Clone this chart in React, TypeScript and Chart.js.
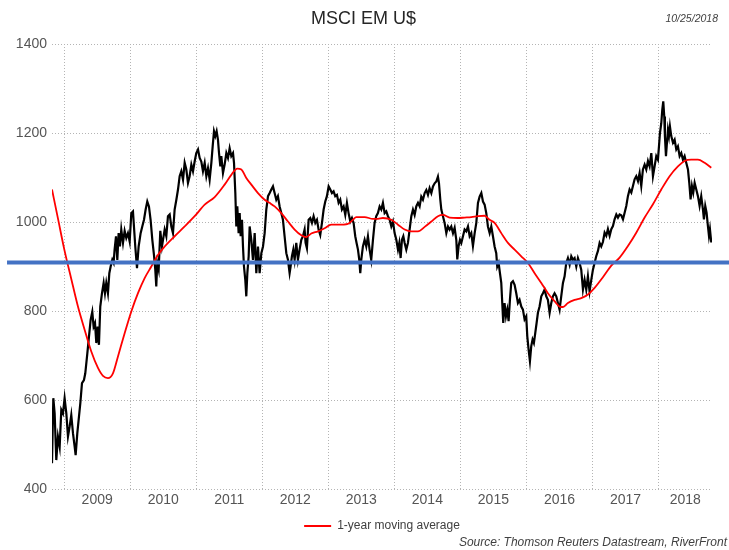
import React, { useEffect, useRef } from 'react';
import { Chart, registerables } from 'chart.js';

Chart.register(...registerables);

const FONT = '"Liberation Sans", Arial, Helvetica, sans-serif';

// Axis range (decimal years): 10/25/2008 .. 10/25/2018
const xStart = 2008.816;
const xEnd = 2018.81;
const yMin = 400;
const yMax = 1400;
const yStep = 200;
const gridYears = [2009, 2010, 2011, 2012, 2013, 2014, 2015, 2016, 2017, 2018];
const yearLabels = ['2009', '2010', '2011', '2012', '2013', '2014', '2015', '2016', '2017', '2018'];

const chartTitle = 'MSCI EM U$';
const asOfDate = '10/25/2018';
const sourceText = 'Source: Thomson Reuters Datastream, RiverFront';
const maLabel = '1-year moving average';

// Horizontal reference level (blue line) and its extent (decimal years)
const thresholdLevel = 909;
const thresholdFrom = 2008.135;
const thresholdTo = 2019.07;

// MSCI EM U$ index level, [decimal year, value]
const msciEm: [number, number][] = [
  [2008.816, 458], [2008.836, 604], [2008.856, 570], [2008.881, 465], [2008.906, 518], [2008.932, 495],
  [2008.957, 578], [2008.982, 570], [2009.007, 604], [2009.033, 570], [2009.058, 518], [2009.083, 540],
  [2009.108, 566], [2009.134, 525], [2009.159, 495], [2009.174, 476], [2009.199, 525], [2009.219, 555],
  [2009.245, 593], [2009.270, 638], [2009.300, 645], [2009.320, 660], [2009.351, 705], [2009.371, 735],
  [2009.401, 780], [2009.426, 798], [2009.446, 765], [2009.467, 773], [2009.487, 728], [2009.507, 765],
  [2009.527, 724], [2009.547, 810], [2009.573, 840], [2009.598, 863], [2009.618, 840], [2009.638, 863],
  [2009.663, 840], [2009.684, 885], [2009.704, 900], [2009.729, 915], [2009.749, 908], [2009.764, 938],
  [2009.785, 968], [2009.805, 915], [2009.825, 975], [2009.845, 945], [2009.865, 983], [2009.891, 953],
  [2009.916, 980], [2009.941, 964], [2009.966, 975], [2009.992, 956], [2010.017, 1020], [2010.042, 1024],
  [2010.057, 990], [2010.077, 945], [2010.103, 896], [2010.128, 945], [2010.158, 975], [2010.183, 990],
  [2010.209, 1005], [2010.234, 1028], [2010.259, 1046], [2010.284, 1035], [2010.309, 1005], [2010.335, 960],
  [2010.360, 926], [2010.380, 893], [2010.395, 855], [2010.410, 908], [2010.431, 893], [2010.456, 980],
  [2010.481, 945], [2010.497, 960], [2010.522, 983], [2010.547, 968], [2010.572, 1013], [2010.598, 1017],
  [2010.623, 990], [2010.648, 975], [2010.673, 1028], [2010.699, 1050], [2010.724, 1073], [2010.749, 1103],
  [2010.774, 1114], [2010.800, 1095], [2010.825, 1133], [2010.850, 1118], [2010.875, 1088], [2010.900, 1103],
  [2010.926, 1129], [2010.951, 1114], [2010.976, 1136], [2011.001, 1155], [2011.027, 1163], [2011.052, 1144],
  [2011.077, 1136], [2011.102, 1114], [2011.128, 1133], [2011.153, 1103], [2011.178, 1121], [2011.203, 1095],
  [2011.229, 1133], [2011.249, 1170], [2011.269, 1204], [2011.289, 1193], [2011.309, 1204], [2011.329, 1185],
  [2011.345, 1155], [2011.365, 1125], [2011.380, 1148], [2011.405, 1110], [2011.430, 1129], [2011.456, 1155],
  [2011.481, 1144], [2011.506, 1166], [2011.531, 1148], [2011.557, 1155], [2011.572, 1133], [2011.592, 1065],
  [2011.607, 990], [2011.622, 1035], [2011.642, 975], [2011.658, 1020], [2011.673, 968], [2011.693, 1005],
  [2011.708, 945], [2011.723, 900], [2011.743, 870], [2011.758, 833], [2011.774, 885], [2011.794, 923],
  [2011.809, 990], [2011.834, 960], [2011.859, 915], [2011.885, 975], [2011.910, 885], [2011.935, 945],
  [2011.960, 885], [2011.986, 930], [2012.011, 945], [2012.036, 975], [2012.061, 1028], [2012.087, 1058],
  [2012.112, 1065], [2012.137, 1073], [2012.162, 1080], [2012.187, 1065], [2012.212, 1050], [2012.237, 1058],
  [2012.263, 1035], [2012.288, 1020], [2012.313, 1005], [2012.338, 968], [2012.364, 930], [2012.389, 915],
  [2012.414, 885], [2012.429, 900], [2012.449, 923], [2012.470, 938], [2012.490, 915], [2012.515, 953],
  [2012.540, 915], [2012.565, 938], [2012.591, 960], [2012.616, 968], [2012.641, 983], [2012.656, 953],
  [2012.676, 941], [2012.702, 1005], [2012.727, 1009], [2012.752, 998], [2012.777, 1013], [2012.803, 998],
  [2012.828, 1005], [2012.853, 983], [2012.878, 971], [2012.904, 998], [2012.929, 1028], [2012.954, 1046],
  [2012.979, 1058], [2013.005, 1080], [2013.030, 1073], [2013.055, 1065], [2013.080, 1069], [2013.105, 1058],
  [2013.131, 1061], [2013.156, 1043], [2013.181, 1050], [2013.206, 1028], [2013.232, 1035], [2013.257, 1016],
  [2013.282, 1043], [2013.307, 1020], [2013.333, 1001], [2013.358, 1009], [2013.383, 998], [2013.408, 968],
  [2013.428, 953], [2013.449, 938], [2013.469, 915], [2013.484, 885], [2013.499, 915], [2013.524, 945],
  [2013.550, 960], [2013.575, 945], [2013.600, 968], [2013.625, 938], [2013.650, 915], [2013.676, 960],
  [2013.701, 998], [2013.726, 1013], [2013.751, 1020], [2013.777, 1035], [2013.802, 1028], [2013.827, 1043],
  [2013.853, 1020], [2013.878, 1024], [2013.903, 1013], [2013.929, 1005], [2013.954, 990], [2013.979, 1001],
  [2014.004, 975], [2014.030, 960], [2014.055, 938], [2014.075, 953], [2014.095, 919], [2014.115, 960],
  [2014.136, 968], [2014.156, 953], [2014.181, 938], [2014.206, 953], [2014.231, 983], [2014.257, 1013],
  [2014.282, 1028], [2014.307, 1016], [2014.332, 1035], [2014.358, 1043], [2014.383, 1035], [2014.408, 1057],
  [2014.433, 1050], [2014.459, 1065], [2014.484, 1072], [2014.509, 1061], [2014.534, 1076], [2014.560, 1065],
  [2014.585, 1080], [2014.610, 1087], [2014.635, 1091], [2014.660, 1102], [2014.676, 1087], [2014.696, 1050],
  [2014.711, 1028], [2014.736, 1013], [2014.761, 998], [2014.787, 975], [2014.812, 990], [2014.837, 983],
  [2014.862, 990], [2014.888, 975], [2014.913, 987], [2014.938, 960], [2014.953, 916], [2014.973, 946],
  [2014.994, 960], [2015.014, 953], [2015.039, 968], [2015.064, 983], [2015.089, 979], [2015.115, 990],
  [2015.140, 968], [2015.165, 975], [2015.190, 946], [2015.216, 975], [2015.241, 998], [2015.266, 1043],
  [2015.291, 1057], [2015.317, 1065], [2015.342, 1046], [2015.367, 1039], [2015.392, 1020], [2015.417, 990],
  [2015.443, 975], [2015.468, 990], [2015.493, 968], [2015.518, 945], [2015.543, 930], [2015.558, 900],
  [2015.579, 908], [2015.599, 885], [2015.619, 863], [2015.634, 818], [2015.649, 773], [2015.669, 818],
  [2015.690, 788], [2015.710, 803], [2015.730, 777], [2015.750, 825], [2015.770, 863], [2015.796, 867],
  [2015.821, 859], [2015.846, 840], [2015.871, 818], [2015.896, 825], [2015.922, 810], [2015.947, 803],
  [2015.972, 781], [2015.997, 788], [2016.013, 743], [2016.033, 713], [2016.053, 687], [2016.073, 721],
  [2016.093, 736], [2016.113, 728], [2016.134, 751], [2016.154, 773], [2016.174, 796], [2016.199, 810],
  [2016.225, 833], [2016.250, 840], [2016.275, 848], [2016.300, 833], [2016.325, 825], [2016.351, 796],
  [2016.376, 818], [2016.401, 833], [2016.426, 840], [2016.452, 833], [2016.477, 818], [2016.502, 803],
  [2016.527, 833], [2016.553, 863], [2016.578, 878], [2016.603, 908], [2016.628, 919], [2016.654, 904],
  [2016.679, 923], [2016.704, 915], [2016.729, 919], [2016.755, 900], [2016.780, 919], [2016.805, 908],
  [2016.830, 893], [2016.856, 848], [2016.881, 870], [2016.906, 848], [2016.931, 878], [2016.956, 844],
  [2016.982, 870], [2017.007, 893], [2017.032, 908], [2017.057, 923], [2017.083, 935], [2017.108, 953],
  [2017.133, 945], [2017.158, 955], [2017.184, 976], [2017.209, 969], [2017.234, 984], [2017.260, 969],
  [2017.285, 984], [2017.310, 991], [2017.335, 1006], [2017.361, 1017], [2017.386, 1010], [2017.411, 1017],
  [2017.436, 1015], [2017.462, 1006], [2017.487, 1021], [2017.512, 1036], [2017.537, 1058], [2017.562, 1073],
  [2017.588, 1066], [2017.613, 1081], [2017.638, 1096], [2017.663, 1103], [2017.689, 1092], [2017.714, 1110],
  [2017.739, 1081], [2017.764, 1118], [2017.790, 1129], [2017.815, 1118], [2017.840, 1137], [2017.865, 1125],
  [2017.891, 1155], [2017.916, 1103], [2017.941, 1125], [2017.966, 1148], [2017.991, 1140], [2018.007, 1170],
  [2018.022, 1200], [2018.042, 1222], [2018.057, 1252], [2018.072, 1271], [2018.087, 1237], [2018.097, 1193],
  [2018.113, 1148], [2018.128, 1178], [2018.143, 1207], [2018.158, 1193], [2018.173, 1215], [2018.193, 1193],
  [2018.219, 1178], [2018.244, 1185], [2018.269, 1163], [2018.294, 1170], [2018.320, 1148], [2018.345, 1155],
  [2018.370, 1140], [2018.395, 1148], [2018.420, 1133], [2018.446, 1118], [2018.466, 1088], [2018.486, 1051],
  [2018.506, 1081], [2018.526, 1066], [2018.547, 1088], [2018.572, 1073], [2018.597, 1058], [2018.622, 1036],
  [2018.647, 1058], [2018.673, 1028], [2018.688, 1006], [2018.708, 1036], [2018.728, 1021], [2018.748, 991],
  [2018.764, 969], [2018.779, 984], [2018.799, 954],
];

// 1-year moving average, [decimal year, value]
const movingAvg: [number, number][] = [
  [2008.816, 1073], [2008.906, 1008], [2009.007, 935], [2009.108, 872], [2009.209, 810], [2009.310, 758],
  [2009.411, 709], [2009.512, 672], [2009.588, 654], [2009.663, 649], [2009.739, 660], [2009.815, 698],
  [2009.916, 750], [2010.017, 799], [2010.118, 840], [2010.219, 874], [2010.320, 900], [2010.420, 926],
  [2010.522, 945], [2010.673, 968], [2010.825, 990], [2010.976, 1013], [2011.128, 1039], [2011.279, 1056],
  [2011.430, 1084], [2011.531, 1106], [2011.622, 1120], [2011.683, 1118], [2011.758, 1099], [2011.834, 1084],
  [2011.935, 1065], [2012.036, 1050], [2012.112, 1043], [2012.187, 1035], [2012.288, 1020], [2012.389, 1001],
  [2012.490, 983], [2012.591, 970], [2012.666, 966], [2012.742, 974], [2012.843, 979], [2012.944, 986],
  [2013.045, 994], [2013.146, 994], [2013.297, 996], [2013.373, 1005], [2013.423, 1011], [2013.550, 1011],
  [2013.676, 1007], [2013.751, 1007], [2013.827, 1009], [2013.954, 1005], [2014.055, 994], [2014.156, 983],
  [2014.257, 979], [2014.358, 979], [2014.459, 989], [2014.560, 1001], [2014.660, 1013], [2014.736, 1016],
  [2014.837, 1010], [2014.963, 1009], [2015.064, 1010], [2015.165, 1011], [2015.266, 1013], [2015.367, 1014],
  [2015.443, 1005], [2015.518, 998], [2015.619, 975], [2015.720, 953], [2015.821, 938], [2015.922, 923],
  [2016.023, 908], [2016.124, 885], [2016.225, 863], [2016.325, 840], [2016.426, 822], [2016.502, 810],
  [2016.553, 809], [2016.628, 818], [2016.729, 825], [2016.830, 829], [2016.931, 837], [2017.032, 852],
  [2017.158, 876], [2017.285, 902], [2017.411, 920], [2017.537, 946], [2017.663, 976], [2017.790, 1010],
  [2017.916, 1040], [2018.042, 1073], [2018.168, 1103], [2018.294, 1125], [2018.395, 1137], [2018.496, 1140],
  [2018.597, 1140], [2018.698, 1133], [2018.799, 1122],
];

const GRID_COLOR = '#b4b4b4';
const TICK_COLOR = '#555555';

export default function App() {
  const canvasRef = useRef<HTMLCanvasElement>(null);

  useEffect(() => {
    const canvas = canvasRef.current;
    if (!canvas) return;

    const labelPositions = gridYears.map((y) => {
      const lo = Math.max(y, xStart);
      const hi = Math.min(y + 1, xEnd);
      return (lo + hi) / 2;
    });
    const labelFor = (v: number) => {
      const idx = labelPositions.findIndex((p) => Math.abs(p - v) < 1e-6);
      return idx >= 0 ? yearLabels[idx] : '';
    };
    const isGridYear = (v: number) => gridYears.some((g) => Math.abs(g - v) < 1e-6);

    const chart = new Chart(canvas, {
      type: 'line',
      data: {
        datasets: [
          {
            label: 'threshold',
            data: [
              { x: thresholdFrom, y: thresholdLevel },
              { x: thresholdTo, y: thresholdLevel },
            ],
            borderColor: '#4472C4',
            backgroundColor: '#4472C4',
            borderWidth: 4,
            pointRadius: 0,
            clip: false as any,
          },
          {
            label: maLabel,
            data: movingAvg.map(([x, y]) => ({ x, y })),
            borderColor: '#FF0000',
            backgroundColor: '#FF0000',
            borderWidth: 1.8,
            pointRadius: 0,
            cubicInterpolationMode: 'monotone',
          },
          {
            label: chartTitle,
            data: msciEm.map(([x, y]) => ({ x, y })),
            borderColor: '#000000',
            backgroundColor: '#000000',
            borderWidth: 2.2,
            pointRadius: 0,
            tension: 0,
          },
        ],
      },
      options: {
        animation: false,
        responsive: false,
        devicePixelRatio: 1,
        events: [],
        layout: { padding: { left: 0, right: 2, top: 0, bottom: 0 } },
        font: { family: FONT },
        plugins: {
          tooltip: { enabled: false },
          title: {
            display: true,
            text: chartTitle,
            color: '#262626',
            font: { family: FONT, size: 18, weight: 'normal' },
            padding: { top: 8, bottom: 14.4 },
          },
          subtitle: {
            display: true,
            position: 'bottom',
            align: 'end',
            text: sourceText,
            color: '#404040',
            font: { family: FONT, size: 12, style: 'italic', weight: 'normal' },
            padding: { top: 0, bottom: 0 },
          },
          legend: {
            display: true,
            position: 'bottom',
            fullSize: false,
            maxHeight: 17.6,
            labels: {
              usePointStyle: true,
              pointStyle: 'line',
              pointStyleWidth: 27,
              padding: 2,
              color: '#404040',
              font: { family: FONT, size: 12 },
              filter: (item: any) => item.text === maLabel,
            },
          },
        },
        scales: {
          x: {
            type: 'linear',
            min: xStart,
            max: xEnd,
            border: { display: false, dash: [1, 2] },
            grid: {
              drawTicks: false,
              lineWidth: 1,
              color: (ctx: any) =>
                ctx.tick && isGridYear(ctx.tick.value) ? GRID_COLOR : 'rgba(0,0,0,0)',
            },
            ticks: {
              autoSkip: false,
              maxRotation: 0,
              minRotation: 0,
              padding: 3,
              color: TICK_COLOR,
              font: { family: FONT, size: 14 },
              callback: (value: any) => labelFor(Number(value)),
            },
            afterBuildTicks: (scale: any) => {
              const vals = [...gridYears, ...labelPositions].sort((a, b) => a - b);
              scale.ticks = vals.map((v) => ({ value: v }));
            },
            afterFit: (scale: any) => {
              scale.height = 29;
            },
          },
          y: {
            type: 'linear',
            position: 'left',
            min: yMin,
            max: yMax,
            border: { display: false, dash: [1, 2] },
            grid: { drawTicks: false, color: GRID_COLOR, lineWidth: 1 },
            ticks: {
              stepSize: yStep,
              padding: 5,
              color: TICK_COLOR,
              font: { family: FONT, size: 14 },
              callback: (value: any) => String(value),
            },
            afterFit: (scale: any) => {
              scale.width = 52;
            },
          },
          yRight: {
            type: 'linear',
            position: 'right',
            display: true,
            grid: { display: false },
            border: { display: false },
            ticks: { display: false },
            afterFit: (scale: any) => {
              scale.width = 15;
            },
          },
        },
      } as any,
    });

    return () => chart.destroy();
  }, []);

  return (
    <div
      style={{
        position: 'absolute',
        left: 0,
        top: 0,
        width: 729,
        height: 550,
        background: '#ffffff',
        overflow: 'hidden',
      }}
    >
      <canvas ref={canvasRef} width={729} height={550} style={{ display: 'block' }} />
      <div
        style={{
          position: 'absolute',
          top: 12,
          right: 11,
          fontFamily: FONT,
          fontStyle: 'italic',
          fontSize: 10.5,
          lineHeight: '12px',
          color: '#404040',
        }}
      >
        {asOfDate}
      </div>
    </div>
  );
}
